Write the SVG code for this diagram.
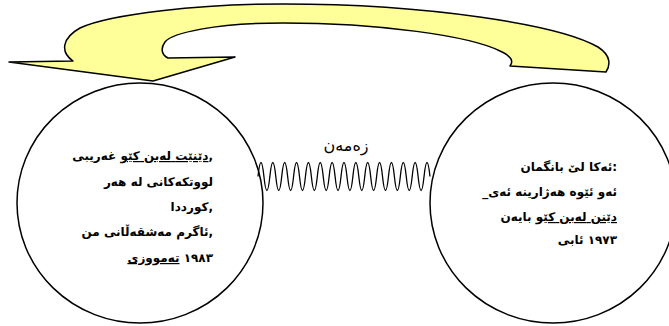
<svg xmlns="http://www.w3.org/2000/svg" width="669" height="326" viewBox="0 0 669 326">
<style>
.shape{fill:#fff;stroke:#000;stroke-width:1.5}
.arrow{fill:#FFFF99;stroke:#000;stroke-width:1.5;stroke-linejoin:round}
.t{font-family:"DejaVu Sans",sans-serif;font-weight:bold;font-size:12px;fill:#000;direction:ltr}
.u{text-decoration:underline}
.lbl{font-family:"DejaVu Sans",sans-serif;font-size:16px;fill:#000;direction:ltr}
.spring{fill:none;stroke:#000;stroke-width:1.3}
</style>
<rect width="669" height="326" fill="#fff"/>
<g id="arrow">
<path class="arrow" d="M 9,62 L 73,61 C 60,52 62,38 80,28 C 110,14 200,4 283,4 C 430,4 560,25 598,47 C 612,56 610,66 606,72 L 510,66 C 514,61 511,56 500,51 C 470,36 380,23 283,23 C 215,23 172,33 165,42 C 160,49 162,55 168,58 L 235,57 L 153,81 Z"/>
</g>
<g id="node-left">
<ellipse class="shape" cx="140" cy="203" rx="123" ry="120"/>
<text class="t" x="213" y="160" text-anchor="end">غەریبی&#x200E; &#x200E;<tspan class="u">کێو&#x200E; &#x200E;لەبن&#x200E; &#x200E;دێنێت</tspan>,</text>
<text class="t" x="213" y="186" text-anchor="end">هەر&#x200E; &#x200E;لە&#x200E; &#x200E;لووتکەکانی</text>
<text class="t" x="213" y="211" text-anchor="end">کورددا,</text>
<text class="t" x="213" y="236" text-anchor="end">من&#x200E; &#x200E;مەشقەڵانی&#x200E; &#x200E;ئاگرم,</text>
<text class="t" x="213" y="262" text-anchor="end"><tspan class="u">تەمووزی</tspan>&#x200E; &#x200E;۱۹۸۳</text>
</g>
<g id="node-right">
<ellipse class="shape" cx="553" cy="203" rx="123" ry="120"/>
<text class="t" x="617" y="171" text-anchor="end">بانگمان&#x200E; &#x200E;لێ&#x200E; &#x200E;ئەکا:</text>
<text class="t" x="617" y="196" text-anchor="end">_ئەی&#x200E; &#x200E;هەژارینە&#x200E; &#x200E;ئێوە&#x200E; &#x200E;ئەو</text>
<text class="t" x="617" y="221" text-anchor="end">بایەن&#x200E; &#x200E;<tspan class="u">کێو&#x200E; &#x200E;لەبن&#x200E; &#x200E;دێنن</tspan></text>
<text class="t" x="617" y="244" text-anchor="end">ئابی&#x200E; &#x200E;۱۹۷۳</text>
</g>
<g id="connectors">
<path class="spring" d="M 258,176.5 q 2.96,-28 5.93,0 t 5.93,0 t 5.93,0 t 5.93,0 t 5.93,0 t 5.93,0 t 5.93,0 t 5.93,0 t 5.93,0 t 5.93,0 t 5.93,0 t 5.93,0 t 5.93,0 t 5.93,0 t 5.93,0 t 5.93,0 t 5.93,0 t 5.93,0 t 5.93,0 t 5.93,0 t 5.93,0 t 5.93,0 t 5.93,0 t 5.93,0 t 5.93,0 t 5.93,0 t 5.93,0 t 5.93,0 t 5.93,0"/>
<text class="lbl" x="346" y="151" text-anchor="middle">زەمەن</text>
</g>
</svg>
